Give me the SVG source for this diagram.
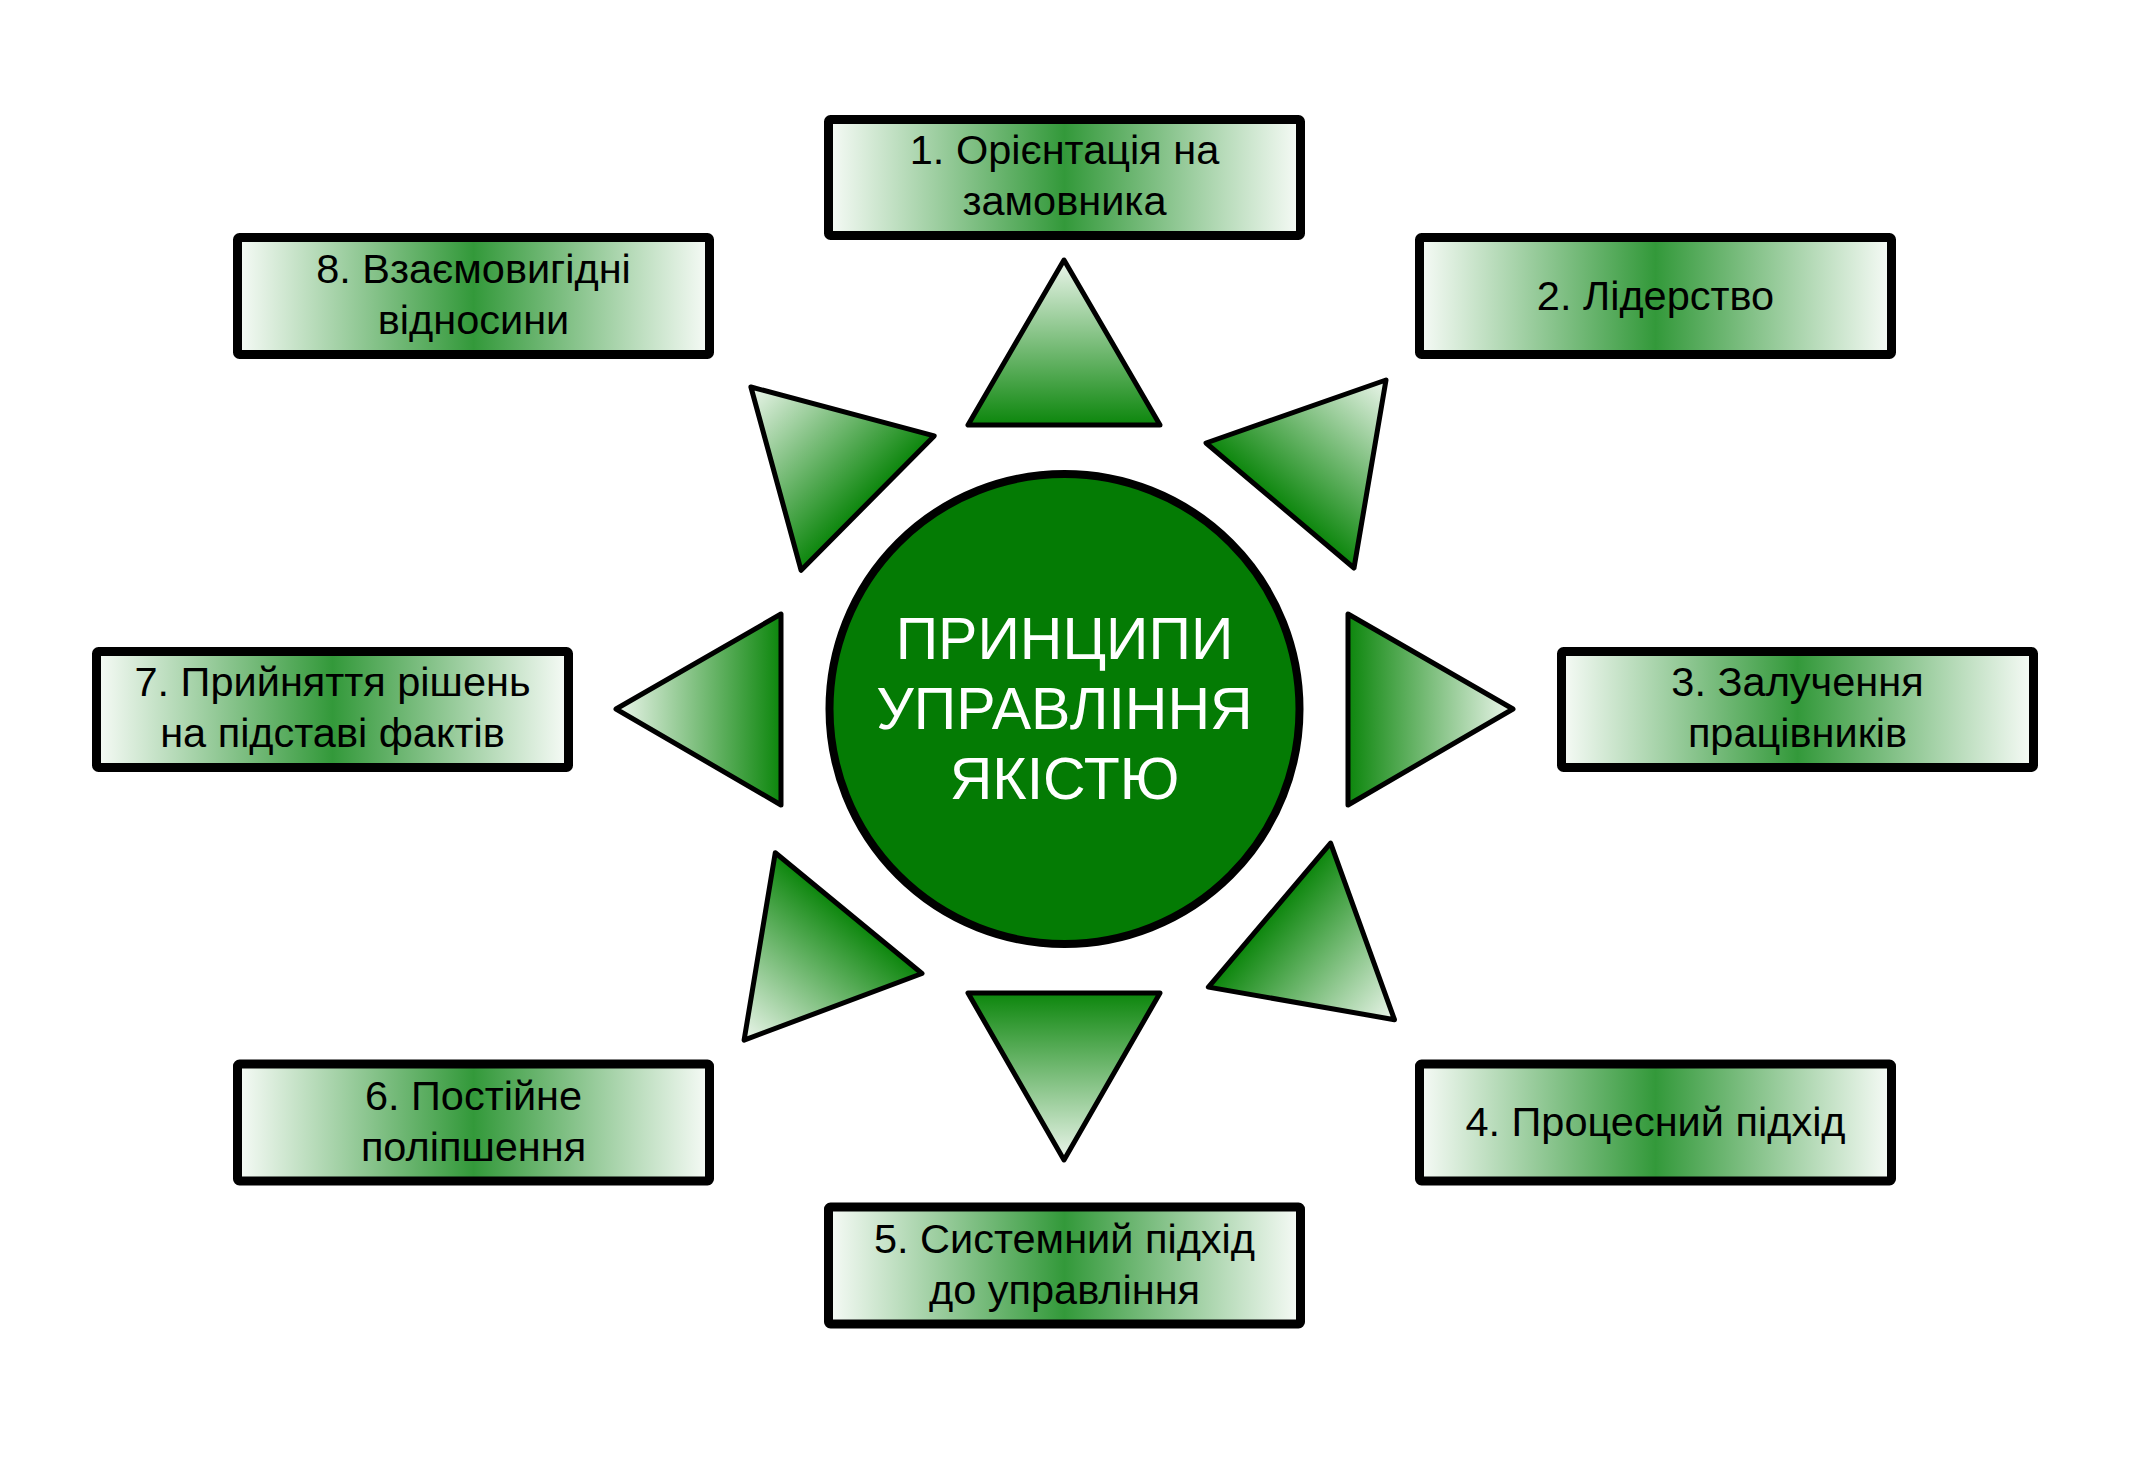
<svg xmlns="http://www.w3.org/2000/svg" xmlns:xlink="http://www.w3.org/1999/xlink" width="2129" height="1479" viewBox="0 0 2129 1479">
<style>
.box{stroke:#000;stroke-width:9;stroke-linejoin:round;fill:url(#boxg)}
.lbl{font-family:"Liberation Sans",Arial,sans-serif;font-size:41.5px;fill:#000;text-anchor:middle}
.tri{stroke:#000;stroke-width:5;stroke-linejoin:round}
.ctr{font-family:"Liberation Sans",Arial,sans-serif;font-size:59px;fill:#fff;text-anchor:middle}
</style>
<defs>
<linearGradient id="boxg" x1="0" y1="0" x2="1" y2="0">
<stop offset="0" stop-color="#F7FBF7"/>
<stop offset="0.5" stop-color="#33993A"/>
<stop offset="1" stop-color="#F7FBF7"/>
</linearGradient>
<linearGradient id="trig" gradientUnits="userSpaceOnUse">
<stop offset="0" stop-color="#0C860C"/>
<stop offset="1" stop-color="#ECF6EC"/>
</linearGradient>
<linearGradient id="g1" xlink:href="#trig" x1="1064" y1="425" x2="1064" y2="260"/>
<linearGradient id="g2" xlink:href="#trig" x1="1280" y1="505.5" x2="1386" y2="380"/>
<linearGradient id="g3" xlink:href="#trig" x1="1348" y1="709.5" x2="1513" y2="709"/>
<linearGradient id="g4" xlink:href="#trig" x1="1269.5" y1="915.2" x2="1394.5" y2="1019.7"/>
<linearGradient id="g5" xlink:href="#trig" x1="1064" y1="993" x2="1064" y2="1160"/>
<linearGradient id="g6" xlink:href="#trig" x1="848.7" y1="913.1" x2="744.1" y2="1040.1"/>
<linearGradient id="g7" xlink:href="#trig" x1="781" y1="709.5" x2="616" y2="709"/>
<linearGradient id="g8" xlink:href="#trig" x1="867.7" y1="503.1" x2="750.9" y2="387"/>
</defs>
<rect width="2129" height="1479" fill="#fff"/>
<g id="connectors">
<polygon class="tri" fill="url(#g1)" points="1064,260 968,425 1160,425"/>
<polygon class="tri" fill="url(#g2)" points="1386,380 1206,443 1354,568"/>
<polygon class="tri" fill="url(#g3)" points="1513,709 1348,614 1348,805"/>
<polygon class="tri" fill="url(#g4)" points="1394.5,1019.7 1330.6,843.2 1208.4,987.1"/>
<polygon class="tri" fill="url(#g5)" points="1064,1160 968,993 1160,993"/>
<polygon class="tri" fill="url(#g6)" points="744.1,1040.1 775.3,852.7 922,973.5"/>
<polygon class="tri" fill="url(#g7)" points="616,709 781,614 781,805"/>
<polygon class="tri" fill="url(#g8)" points="750.9,387 934.2,435.9 801.1,570.3"/>
</g>
<g id="center">
<circle cx="1064.5" cy="709" r="235" fill="#047B04" stroke="#000" stroke-width="8"/>
<text class="ctr" x="1064.5" y="659">ПРИНЦИПИ</text>
<text class="ctr" x="1064.5" y="729">УПРАВЛІННЯ</text>
<text class="ctr" x="1064.5" y="799">ЯКІСТЮ</text>
</g>
<g id="n1">
<rect class="box" x="828.5" y="119.5" width="472" height="116" rx="2"/>
<text class="lbl" x="1064.5" y="164">1. Орієнтація на</text>
<text class="lbl" x="1064.5" y="215">замовника</text>
</g>
<g id="n2">
<rect class="box" x="1419.5" y="237.5" width="472" height="117" rx="2"/>
<text class="lbl" x="1655.5" y="310">2. Лідерство</text>
</g>
<g id="n3">
<rect class="box" x="1561.5" y="651.5" width="472" height="116" rx="2"/>
<text class="lbl" x="1797.5" y="696">3. Залучення</text>
<text class="lbl" x="1797.5" y="747">працівників</text>
</g>
<g id="n4">
<rect class="box" x="1419.5" y="1064" width="472" height="117" rx="2"/>
<text class="lbl" x="1655.5" y="1136">4. Процесний підхід</text>
</g>
<g id="n5">
<rect class="box" x="828.5" y="1207" width="472" height="117" rx="2"/>
<text class="lbl" x="1064.5" y="1253">5. Системний підхід</text>
<text class="lbl" x="1064.5" y="1304">до управління</text>
</g>
<g id="n6">
<rect class="box" x="237.5" y="1064" width="472" height="117" rx="2"/>
<text class="lbl" x="473.5" y="1110">6. Постійне</text>
<text class="lbl" x="473.5" y="1161">поліпшення</text>
</g>
<g id="n7">
<rect class="box" x="96.5" y="651.5" width="472" height="116" rx="2"/>
<text class="lbl" x="332.5" y="696">7. Прийняття рішень</text>
<text class="lbl" x="332.5" y="747">на підставі фактів</text>
</g>
<g id="n8">
<rect class="box" x="237.5" y="237.5" width="472" height="117" rx="2"/>
<text class="lbl" x="473.5" y="283">8. Взаємовигідні</text>
<text class="lbl" x="473.5" y="334">відносини</text>
</g>
</svg>
